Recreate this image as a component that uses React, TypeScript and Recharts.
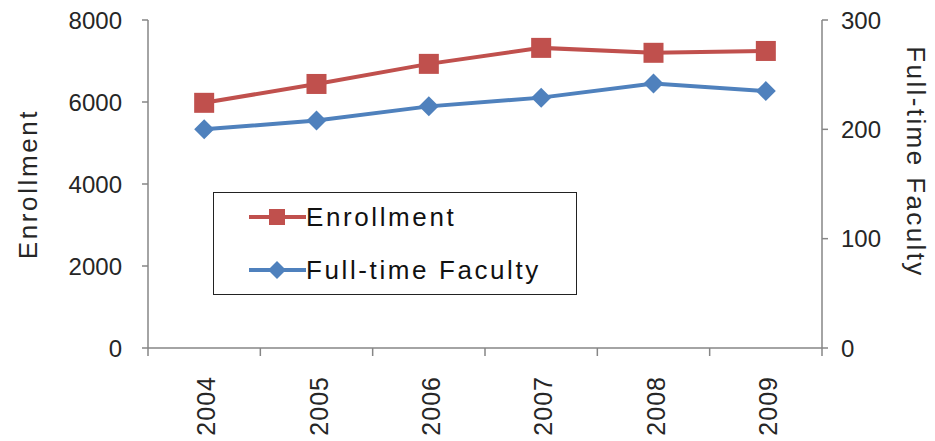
import { LineChart, Line, XAxis, YAxis, Legend } from 'recharts';

const years = ['2004', '2005', '2006', '2007', '2008', '2009'];
const enrollment = [5980, 6440, 6930, 7320, 7200, 7245];
const faculty = [200, 208, 221, 229, 242, 235];
const enrollmentTicks = [0, 2000, 4000, 6000, 8000];
const facultyTicks = [0, 100, 200, 300];

const RED = '#C0504D';
const BLUE = '#4F81BD';
const AXIS = '#868686';
const TEXT = '#262626';
const FONT = '"Liberation Sans", Arial, sans-serif';

const data = years.map((year, i) => ({
  pos: i + 0.5,
  year,
  enrollment: enrollment[i],
  faculty: faculty[i],
}));

// category borders get a tick line, category centres get the year label
const xTicks = Array.from({ length: years.length * 2 + 1 }, (_, i) => i / 2);

function XTick(props: any) {
  const { x, y, payload } = props;
  const v = payload.value;
  if (Number.isInteger(v)) {
    return <line x1={x} x2={x} y1={y} y2={y + 8} stroke={AXIS} strokeWidth={1.5} />;
  }
  const tx = x + 2;
  const ty = y + 28;
  return (
    <text
      x={tx}
      y={ty}
      transform={`rotate(-90, ${tx}, ${ty})`}
      textAnchor="end"
      dominantBaseline="central"
      fill={TEXT}
      fontSize={25}
      fontFamily={FONT}
      letterSpacing={1}
    >
      {years[Math.floor(v)]}
    </text>
  );
}

function squareDot(props: any) {
  const { cx, cy, index } = props;
  return <rect key={`sq-${index}`} x={cx - 10} y={cy - 10} width={20} height={20} fill={RED} />;
}

function diamondDot(props: any) {
  const { cx, cy, index } = props;
  return (
    <path
      key={`dm-${index}`}
      d={`M${cx},${cy - 10} L${cx + 10},${cy} L${cx},${cy + 10} L${cx - 10},${cy} Z`}
      fill={BLUE}
    />
  );
}

function LeftTitle(props: any) {
  const vb = props.viewBox || { x: 0, y: 20, width: 148, height: 328 };
  const cx = vb.x + 28;
  const cy = vb.y + vb.height / 2;
  return (
    <text
      x={cx}
      y={cy}
      transform={`rotate(-90, ${cx}, ${cy})`}
      textAnchor="middle"
      dominantBaseline="central"
      fill={TEXT}
      fontSize={26}
      fontFamily={FONT}
      letterSpacing={2.6}
    >
      Enrollment
    </text>
  );
}

function RightTitle(props: any) {
  const vb = props.viewBox || { x: 822, y: 20, width: 113, height: 328 };
  const cx = vb.x + 94;
  const cy = vb.y + 142;
  return (
    <text
      x={cx}
      y={cy}
      transform={`rotate(90, ${cx}, ${cy})`}
      textAnchor="middle"
      dominantBaseline="central"
      fill={TEXT}
      fontSize={26}
      fontFamily={FONT}
      letterSpacing={2.4}
    >
      Full-time Faculty
    </text>
  );
}

function LegendBox() {
  const rows = [
    { name: 'Enrollment', color: RED, shape: 'square', y: 24 },
    { name: 'Full-time Faculty', color: BLUE, shape: 'diamond', y: 77 },
  ];
  return (
    <svg width={364} height={103} style={{ display: 'block', border: '1.5px solid #222', boxSizing: 'border-box' }}>
      {rows.map((r) => (
        <g key={r.name}>
          <line x1={35} x2={92} y1={r.y} y2={r.y} stroke={r.color} strokeWidth={4} />
          {r.shape === 'square' ? (
            <rect x={55} y={r.y - 8} width={16} height={16} fill={r.color} />
          ) : (
            <path d={`M63,${r.y - 9} L72,${r.y} L63,${r.y + 9} L54,${r.y} Z`} fill={r.color} />
          )}
          <text
            x={92}
            y={r.y}
            dominantBaseline="central"
            fill="#111"
            fontSize={26}
            fontFamily={FONT}
            letterSpacing={2.6}
          >
            {r.name}
          </text>
        </g>
      ))}
    </svg>
  );
}

export default function App() {
  return (
    <div style={{ position: 'absolute', left: 0, top: 0, background: '#fff' }}>
      <LineChart width={935} height={441} data={data} margin={{ top: 20, right: 0, bottom: 0, left: 0 }}>
        <XAxis
          dataKey="pos"
          type="number"
          domain={[0, years.length]}
          ticks={xTicks}
          interval={0}
          height={93}
          tickLine={false}
          tickSize={0}
          tickMargin={0}
          axisLine={{ stroke: AXIS, strokeWidth: 1.5 }}
          tick={<XTick />}
        />
        <YAxis
          yAxisId="left"
          domain={[0, 8000]}
          ticks={enrollmentTicks}
          width={148}
          tickSize={6}
          tickMargin={20}
          axisLine={{ stroke: AXIS, strokeWidth: 1.5 }}
          tickLine={{ stroke: AXIS, strokeWidth: 1.5 }}
          tick={{ fill: TEXT, fontSize: 24, fontFamily: FONT }}
          label={{ content: <LeftTitle /> }}
        />
        <YAxis
          yAxisId="right"
          orientation="right"
          domain={[0, 300]}
          ticks={facultyTicks}
          width={113}
          tickSize={6}
          tickMargin={13}
          axisLine={{ stroke: AXIS, strokeWidth: 1.5 }}
          tickLine={{ stroke: AXIS, strokeWidth: 1.5 }}
          tick={{ fill: TEXT, fontSize: 24, fontFamily: FONT, textAnchor: 'start' }}
          label={{ content: <RightTitle /> }}
        />
        <Legend
          layout="horizontal"
          verticalAlign="middle"
          align="center"
          content={<LegendBox />}
          wrapperStyle={{ left: 213, top: 192, width: 364, height: 103 }}
        />
        <Line
          yAxisId="left"
          dataKey="enrollment"
          name="Enrollment"
          type="linear"
          stroke={RED}
          strokeWidth={4}
          dot={squareDot}
          activeDot={false}
          isAnimationActive={false}
        />
        <Line
          yAxisId="right"
          dataKey="faculty"
          name="Full-time Faculty"
          type="linear"
          stroke={BLUE}
          strokeWidth={4}
          dot={diamondDot}
          activeDot={false}
          isAnimationActive={false}
        />
      </LineChart>
    </div>
  );
}
